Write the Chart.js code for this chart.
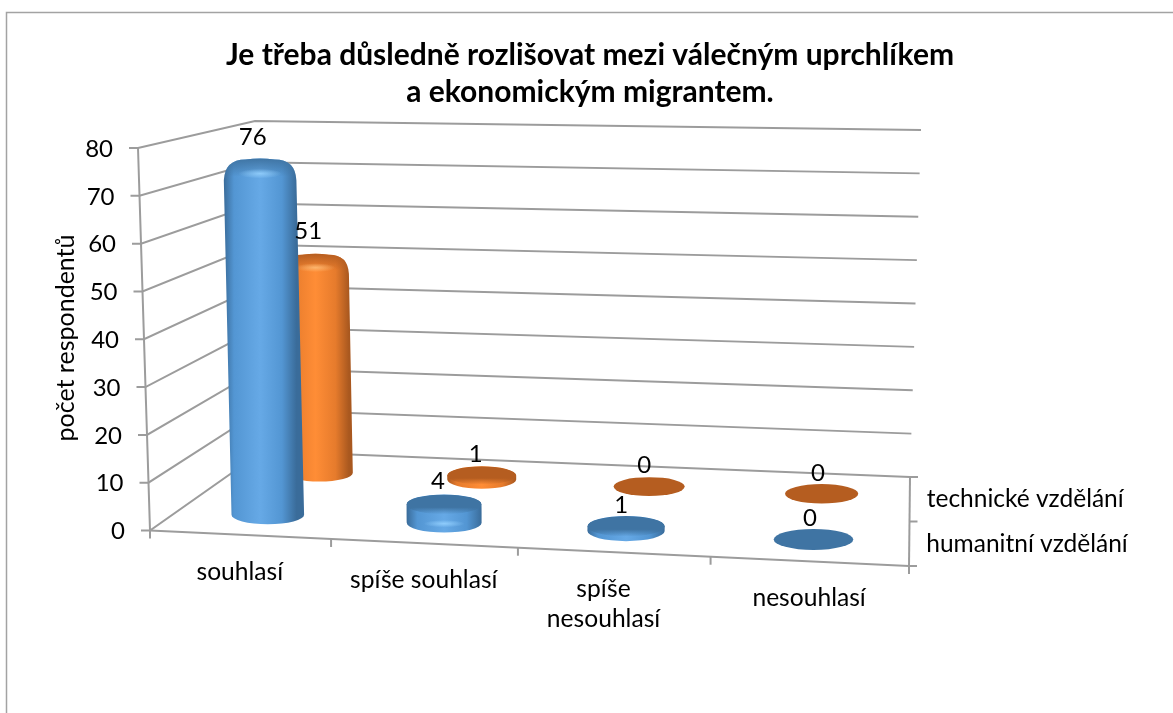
<!DOCTYPE html>
<html><head><meta charset="utf-8">
<style>html,body{margin:0;padding:0;background:#fff}canvas{display:block}</style>
<script src="https://cdn.jsdelivr.net/npm/chart.js@4/dist/chart.umd.js"></script>
</head><body>
<div style="width:1173px;height:713px"><canvas id="c" width="1173" height="713"></canvas></div>
<script>
const categories = ['souhlasí', 'spíše souhlasí', ['spíše', 'nesouhlasí'], 'nesouhlasí'];
const seriesNames = ['technické vzdělání', 'humanitní vzdělání'];
const humanitni = [76, 4, 1, 0];
const technicke = [51, 1, 0, 0];
const titleLines = ['Je třeba důsledně rozlišovat mezi válečným uprchlíkem', 'a ekonomickým migrantem.'];
const yAxisTitle = 'počet respondentů';

// 3D box corners as seen on the picture
const FLOOR = {fl:[150,530.5], fr:[909,566], bl:[263,451], br:[910,477]};
const CEIL  = {fl:[138,148], fr:[920,164], bl:[255,121], br:[921,130]};
const HALF_U = 0.052, ELL = 0.265;
const BAR_V = [0.975, 0.948];
const ROW_DEPTH = [0.25, 0.77];
const labelDx = [0, 0, -10, 0];
const GRID = '#9c9c9c', FONT = 'Lato, Carlito, sans-serif';

const lerp = (a,b,t) => [a[0]+(b[0]-a[0])*t, a[1]+(b[1]-a[1])*t];
function project(u,d,v){
  const w = u - 0.061*u*(1-u);
  const p0 = lerp(lerp(FLOOR.fl,FLOOR.fr,w), lerp(FLOOR.bl,FLOOR.br,w), d);
  const p1 = lerp(lerp(CEIL.fl,CEIL.fr,w), lerp(CEIL.bl,CEIL.br,w), d);
  return lerp(p0,p1,v);
}
const fracX = (s,i) => (s.getPixelForTick(i)-s.left)/(s.right-s.left);
const fracY = (s,val) => (s.bottom-s.getPixelForValue(val))/(s.bottom-s.top);

const PAL = [
  {dark:'#3a6c9a',mid:'#5396d3',light:'#66a9e6',cap:'#3f74a3',glow:'rgba(150,210,255,0.85)'},
  {dark:'#a9581f',mid:'#e67b2c',light:'#ff8d36',cap:'#b55d20',glow:'rgba(255,190,120,0.85)'}
];
function sideGrad(ctx,x,a,p){
  const g = ctx.createLinearGradient(x-a,0,x+a,0);
  g.addColorStop(0,p.dark); g.addColorStop(.14,p.mid); g.addColorStop(.5,p.light);
  g.addColorStop(.8,p.mid); g.addColorStop(1,p.dark);
  return g;
}
function glow(ctx,x,y,rx,sy,p){
  ctx.save();
  ctx.translate(x,y); ctx.scale(1,sy);
  const rg=ctx.createRadialGradient(0,0,0,0,0,rx);
  rg.addColorStop(0,p.glow); rg.addColorStop(1,p.glow.replace(/[\d.]+\)$/,'0)'));
  ctx.fillStyle=rg; ctx.beginPath(); ctx.arc(0,0,rx,0,7); ctx.fill();
  ctx.restore();
}
function drawCylinder(ctx,el,p){
  const xt=el.x, yt=el.y, xb=el.baseX, yb=el.base, a=el.width/2, b=a*ELL, h=yb-yt;
  if(h<1){
    ctx.fillStyle=p.cap; ctx.beginPath(); ctx.ellipse(xb,yb,a,b,0,0,7); ctx.fill(); return;
  }
  ctx.save();
  if(h<40){
    // low disc: rounded rim, dark top fading towards the lit edge
    ctx.beginPath();
    ctx.ellipse(xt,yt,a,b,0,Math.PI,2*Math.PI);
    ctx.bezierCurveTo(xb+a,yt+b*.5,xb+a,yb-b*.2,xb+a,yb);
    ctx.ellipse(xb,yb,a,b,0,0,Math.PI);
    ctx.bezierCurveTo(xt-a,yb-b*.2,xt-a,yt+b*.5,xt-a,yt);
    ctx.closePath();
    ctx.fillStyle=sideGrad(ctx,xb,a,p); ctx.fill();
    ctx.clip();
    const g=ctx.createLinearGradient(0,yt-b,0,yt+b);
    g.addColorStop(0,p.cap); g.addColorStop(.65,p.cap); g.addColorStop(1,p.cap+'00');
    ctx.fillStyle=g; ctx.beginPath(); ctx.ellipse(xt,yt,a,b,0,0,7); ctx.fill();
    if(h>6) glow(ctx,xb,yb+b*.1,a*.55,.18,p);
  } else {
    const top=yt-b*1.25, r=a*0.6;
    ctx.beginPath();
    ctx.moveTo(xb-a,yb);
    ctx.lineTo(xt-a,top+r);
    ctx.quadraticCurveTo(xt-a+1,top+1,xt-a+r,top+1);
    ctx.quadraticCurveTo(xt,top-1,xt+a-r,top+1);
    ctx.quadraticCurveTo(xt+a-1,top+1,xt+a,top+r);
    ctx.lineTo(xb+a,yb);
    ctx.ellipse(xb,yb,a,b,0,0,Math.PI);
    ctx.closePath();
    ctx.fillStyle=sideGrad(ctx,xt,a,p); ctx.fill();
    ctx.clip();
    const g=ctx.createLinearGradient(0,top,0,top+a*.5);
    g.addColorStop(0,p.cap); g.addColorStop(.5,p.cap+'88'); g.addColorStop(1,p.cap+'00');
    ctx.fillStyle=g; ctx.fillRect(xt-a-2,top-2,2*a+4,a*.6);
    glow(ctx,xt,top+a*.42,a*.6,.22,p);
  }
  ctx.restore();
}
function line(ctx,pts){
  ctx.beginPath(); pts.forEach((q,i)=> i?ctx.lineTo(q[0],q[1]):ctx.moveTo(q[0],q[1])); ctx.stroke();
}

const scene = {
  id:'scene',
  afterDatasetsUpdate(chart){
    const xs=chart.scales.x, ys=chart.scales.y;
    chart.data.datasets.forEach((ds,di)=>{
      chart.getDatasetMeta(di).data.forEach((el,i)=>{
        const u0=fracX(xs,i), u=u0+0.005*(1-u0), d=ROW_DEPTH[di], v=fracY(ys,ds.data[i])*BAR_V[di];
        const t=project(u,d,v), b=project(u,d,0);
        el.x=t[0]; el.y=t[1]; el.baseX=b[0]; el.base=b[1];
        el.width=project(u+HALF_U,d,0)[0]-project(u-HALF_U,d,0)[0];
        el.uPos=u;
      });
    });
  },
  beforeDraw(chart){
    const ctx=chart.ctx, xs=chart.scales.x, ys=chart.scales.y, zs=chart.scales.z;
    ctx.save();
    ctx.fillStyle='#fff'; ctx.fillRect(0,0,chart.width,chart.height);
    ctx.strokeStyle='#a3a3a3'; ctx.lineWidth=1.5;
    line(ctx,[[6.5,chart.height+5],[6.5,12.5],[chart.width+5,12.5]]);
    // walls
    ctx.strokeStyle=GRID; ctx.lineWidth=2;
    ys.ticks.forEach(t=>{
      const v=fracY(ys,t.value);
      const a=project(0,0,v), b=project(0,1,v), c=project(1,1,v);
      line(ctx,[[a[0]-9,a[1]],a,b,c]);
    });
    line(ctx,[project(0,0,0),project(0,0,1)]);
    // floor front + right edges with ticks
    const fl=project(0,0,0), fr=project(1,0,0), br=project(1,1,0);
    line(ctx,[fl,fr]); line(ctx,[br,fr]);
    [0,.25,.5,.75,1].forEach(u=>{ const q=project(u,0,0); line(ctx,[q,[q[0],q[1]+8]]); });
    [0,.5,1].forEach(d=>{ const q=project(1,d,0); line(ctx,[q,[q[0]+8,q[1]]]); });
    ctx.restore();
    // native tick labels follow the slanted edges of the box
    ys.getLabelItems().forEach((it,i)=>{
      const q=project(0,0,fracY(ys,ys.ticks[i].value));
      it.options.textAlign='right'; it.options.textBaseline='middle';
      it.options.translation=[q[0]-25,q[1]+1];
    });
    xs.getLabelItems().forEach((it,i)=>{
      const q=project(fracX(xs,i),0,0);
      it.options.textAlign='center'; it.options.textBaseline='middle';
      it.options.translation=[q[0]+labelDx[i],q[1]+37-it.textOffset];
    });
    zs.getLabelItems().forEach((it,i)=>{
      const q=project(1,i===0?0.75:0.25,0);
      it.options.textAlign='left'; it.options.textBaseline='middle';
      it.options.translation=[q[0]+17,q[1]-it.textOffset];
    });
  },
  beforeDatasetDraw(chart,args){
    const ctx=chart.ctx;
    chart.getDatasetMeta(args.index).data.forEach(el=>drawCylinder(ctx,el,PAL[args.index]));
    return false;
  },
  afterDatasetsDraw(chart){
    const ctx=chart.ctx;
    ctx.save();
    ctx.fillStyle='#000'; ctx.font='24px '+FONT; ctx.textAlign='center'; ctx.textBaseline='middle';
    chart.data.datasets.forEach((ds,di)=>{
      chart.getDatasetMeta(di).data.forEach((el,i)=>{
        const h=el.base-el.y;
        ctx.fillText(String(ds.data[i]), el.x-8+5*el.uPos, el.y-21-Math.min(12,h/10));
      });
    });
    ctx.restore();
  }
};

new Chart(document.getElementById('c'),{
  type:'bar',
  data:{labels:categories,datasets:[
    {label:seriesNames[1],data:humanitni,backgroundColor:'#5b9bd5'},
    {label:seriesNames[0],data:technicke,backgroundColor:'#ed7d31'}
  ]},
  plugins:[scene],
  options:{
    responsive:false,animation:false,events:[],
    layout:{padding:{left:7,right:0,top:0,bottom:0}},
    plugins:{
      legend:{display:false},tooltip:{enabled:false},
      title:{display:true,text:titleLines,color:'#000',
        font:{family:FONT,size:30,weight:'bold',lineHeight:1.25},
        padding:{top:36.5,bottom:34.5}}
    },
    scales:{
      x:{type:'category',grid:{display:false,drawTicks:false},border:{display:false},
        ticks:{color:'#000',autoSkip:false,maxRotation:0,minRotation:0,font:{family:FONT,size:24.6,lineHeight:1.22}},
        afterFit(s){s.height=713-530;}},
      y:{type:'linear',min:0,max:80,grid:{display:false,drawTicks:false},border:{display:false},
        ticks:{stepSize:10,color:'#000',font:{family:FONT,size:24}},
        title:{display:true,text:yAxisTitle,color:'#000',font:{family:FONT,size:25},padding:{top:44,bottom:0}},
        afterFit(s){s.width=143;}},
      z:{type:'category',axis:'y',position:'right',labels:seriesNames,grid:{display:false,drawTicks:false},border:{display:false},
        ticks:{color:'#000',autoSkip:false,font:{family:FONT,size:24.5}},
        afterFit(s){s.width=1173-909;}}
    }
  }
});
</script>
</body></html>
